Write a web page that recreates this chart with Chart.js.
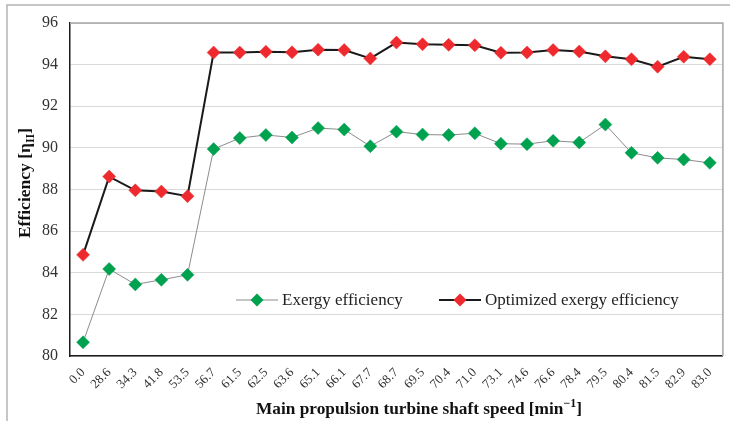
<!DOCTYPE html>
<html>
<head>
<meta charset="utf-8">
<script src="https://cdn.jsdelivr.net/npm/chart.js@4"></script>
<style>
  html, body { margin: 0; padding: 0; background: #fff; }
  #wrap { width: 730px; height: 421px; position: relative; }
</style>
</head>
<body>
<div id="wrap"><canvas id="chart"></canvas></div>
<script>
// shaft speed categories [min^-1]
const speeds = ['0.0','28.6','34.3','41.8','53.5','56.7','61.5','62.5','63.6','65.1','66.1','67.7',
  '68.7','69.5','70.4','71.0','73.1','74.6','76.6','78.4','79.5','80.4','81.5','82.9','83.0'];

const exergy = [80.66, 84.18, 83.44, 83.66, 83.90, 89.94, 90.47, 90.62, 90.50, 90.95, 90.88, 90.08,
  90.78, 90.64, 90.62, 90.70, 90.20, 90.18, 90.34, 90.26, 91.12, 89.76, 89.52, 89.44, 89.28];

const optimized = [84.86, 88.62, 87.96, 87.90, 87.68, 94.58, 94.58, 94.62, 94.59, 94.72, 94.70, 94.30,
  95.06, 94.98, 94.95, 94.93, 94.57, 94.58, 94.70, 94.63, 94.40, 94.26, 93.90, 94.38, 94.26];

const yTicks = { min: 80, max: 96, step: 2 };

const SERIF = '"Liberation Serif", "Times New Roman", serif';

// outer frame, plot frame, axis titles, legend
const decor = {
  id: 'decor',
  beforeDraw(chart) {
    const c = chart.ctx;
    c.save();
    c.fillStyle = '#fff';
    c.fillRect(0, 0, chart.width, chart.height);
    c.strokeStyle = '#b4b4b4';
    c.lineWidth = 1.5;
    c.strokeRect(7, 5, 800, 500);
    c.restore();
  },
  afterDatasetsDraw(chart) {
    const c = chart.ctx, a = chart.chartArea;
    c.save();
    // top / right frame of the plot area
    c.strokeStyle = '#a6a6a6';
    c.lineWidth = 1.5;
    c.beginPath();
    c.moveTo(a.left, a.top); c.lineTo(a.right, a.top); c.lineTo(a.right, a.bottom);
    c.stroke();

    // legend
    const ds = chart.data.datasets;
    const ly = 300;
    const items = [{ x: 236, d: ds[0] }, { x: 439, d: ds[1] }];
    c.font = '17px ' + SERIF;
    c.textBaseline = 'middle';
    items.forEach(it => {
      c.strokeStyle = it.d.borderColor;
      c.lineWidth = it.d.borderWidth;
      c.beginPath(); c.moveTo(it.x, ly); c.lineTo(it.x + 42, ly); c.stroke();
      const r = 6.5, cx = it.x + 21;
      c.fillStyle = it.d.pointBackgroundColor;
      c.beginPath();
      c.moveTo(cx, ly - r); c.lineTo(cx + r, ly); c.lineTo(cx, ly + r); c.lineTo(cx - r, ly);
      c.closePath(); c.fill();
      c.fillStyle = '#222';
      c.fillText(it.d.label, it.x + 46, ly + 1);
    });

    // y title with subscript
    c.fillStyle = '#111';
    c.translate(24, 183);
    c.rotate(-Math.PI / 2);
    const big = 'bold 17.5px ' + SERIF, small = 'bold 12px ' + SERIF;
    c.font = big; const w1 = c.measureText('Efficiency [η').width; const w3 = c.measureText(']').width;
    c.font = small; const w2 = c.measureText('II').width;
    let x = -(w1 + w2 + w3) / 2;
    c.textBaseline = 'alphabetic';
    c.font = big; c.fillText('Efficiency [η', x, 6); x += w1;
    c.font = small; c.fillText('II', x, 10); x += w2;
    c.font = big; c.fillText(']', x, 6);
    c.restore();

    // x title with superscript
    c.save();
    c.fillStyle = '#111';
    c.textBaseline = 'alphabetic';
    const t1 = 'Main propulsion turbine shaft speed [min', t2 = '\u22121', t3 = ']';
    const bigX = 'bold 17.3px ' + SERIF, smallX = 'bold 12px ' + SERIF;
    c.font = bigX; const v1 = c.measureText(t1).width, v3 = c.measureText(t3).width;
    c.font = smallX; const v2 = c.measureText(t2).width;
    let xx = 419 - (v1 + v2 + v3) / 2;
    const by = 414;
    c.font = bigX; c.fillText(t1, xx, by); xx += v1;
    c.font = smallX; c.fillText(t2, xx, by - 7); xx += v2;
    c.font = bigX; c.fillText(t3, xx, by);
    c.restore();
  }
};

new Chart(document.getElementById('chart'), {
  type: 'line',
  data: {
    labels: speeds,
    datasets: [
      {
        label: 'Exergy efficiency', data: exergy,
        borderColor: '#8c8c8c', borderWidth: 1,
        pointStyle: 'rectRot', pointRadius: 6.5, pointHoverRadius: 6.5,
        pointBackgroundColor: '#00a14f', pointBorderColor: '#00a14f', pointBorderWidth: 0.5
      },
      {
        label: 'Optimized exergy efficiency', data: optimized,
        borderColor: '#1a1a1a', borderWidth: 2,
        pointStyle: 'rectRot', pointRadius: 6.5, pointHoverRadius: 6.5,
        pointBackgroundColor: '#ee2a2f', pointBorderColor: '#ee2a2f', pointBorderWidth: 0.5
      }
    ]
  },
  options: {
    responsive: true, maintainAspectRatio: false, animation: false,
    layout: { padding: { top: 23, right: 6, left: 0, bottom: 0 } },
    plugins: { legend: { display: false }, tooltip: { enabled: false } },
    scales: {
      x: {
        offset: true,
        afterFit: s => { s.height = 65; },
        grid: { display: false, drawTicks: false },
        border: { color: '#1a1a1a', width: 1.5 },
        ticks: { autoSkip: false, minRotation: 45, maxRotation: 45, padding: 9, color: '#333', font: { family: SERIF, size: 13 } }
      },
      y: {
        min: yTicks.min, max: yTicks.max,
        afterFit: s => { s.width = 70; },
        grid: { color: '#d9d9d9', lineWidth: 1, drawTicks: false },
        border: { color: '#1a1a1a', width: 1.5 },
        ticks: { stepSize: yTicks.step, padding: 12, color: '#333', font: { family: SERIF, size: 16 } }
      }
    }
  },
  plugins: [decor]
});
</script>
</body>
</html>
